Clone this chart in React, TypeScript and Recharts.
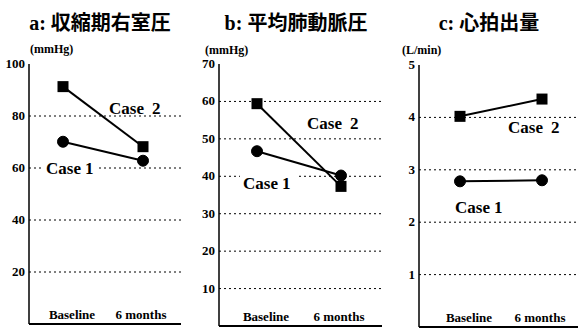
import { Line, LineChart, ReferenceLine, XAxis, YAxis } from "recharts";

const categories = ["Baseline", "6 months"];

// a: right ventricular systolic pressure (mmHg)
const rvspCase1 = [70.1, 62.8];
const rvspCase2 = [91.3, 68.2];
const rvspTicks = [0, 20, 40, 60, 80, 100];

// b: mean pulmonary artery pressure (mmHg)
const mpapCase1 = [46.7, 40.2];
const mpapCase2 = [59.4, 37.3];
const mpapTicks = [0, 10, 20, 30, 40, 50, 60, 70];

// c: cardiac output (L/min)
const coCase1 = [2.78, 2.8];
const coCase2 = [4.02, 4.35];
const coTicks = [0, 1, 2, 3, 4, 5];

const SERIF = "'Liberation Serif', serif";
const TITLE_FONT = "'Liberation Serif', 'Noto Sans CJK JP', serif";

interface PanelProps {
  case1: number[];
  case2: number[];
  ticks: number[];
  boxLeft: number;
  boxWidth: number;
  plotLeft: number;
  plotRight: number;
  plotTop: number;
  plotBottom: number;
  padLeft: number;
  padRight: number;
  topBorder: boolean;
}

const SquareDot = (props: any) => {
  const { cx, cy, index } = props;
  if (cx == null || cy == null) return null;
  return <rect key={`sq-${index}`} x={cx - 5.5} y={cy - 5.5} width={11} height={11} fill="#000" />;
};

const XTick = (props: any) => {
  const { x, y, payload, index } = props;
  return (
    <text
      x={x + (index === 0 ? 9 : -2)}
      y={y - 5}
      textAnchor="middle"
      fontFamily={SERIF}
      fontWeight="bold"
      fontSize={13}
      fill="#000"
    >
      {payload.value}
    </text>
  );
};

const YTick = (props: any) => {
  const { x, y, payload } = props;
  return (
    <text x={x} y={y + 4} textAnchor="end" fontFamily={SERIF} fontWeight="bold" fontSize={13} fill="#000">
      {payload.value}
    </text>
  );
};

function Panel(p: PanelProps) {
  const data = categories.map((label, i) => ({
    label,
    case1: p.case1[i],
    case2: p.case2[i],
  }));
  const top = p.ticks[p.ticks.length - 1];
  const grid = p.ticks.slice(1, -1);
  const axisW = p.plotLeft - p.boxLeft;
  return (
    <div style={{ position: "absolute", left: p.boxLeft, top: 0 }}>
      <LineChart
        width={p.boxWidth}
        height={329}
        data={data}
        margin={{ top: p.plotTop, right: p.boxLeft + p.boxWidth - p.plotRight, bottom: 0, left: 0 }}
      >
        <XAxis
          dataKey="label"
          height={329 - p.plotBottom}
          padding={{ left: p.padLeft, right: p.padRight }}
          axisLine={{ stroke: "#000", strokeWidth: 2 }}
          tickLine={false}
          tickSize={0}
          tickMargin={0}
          tick={<XTick />}
          interval={0}
        />
        {p.topBorder && (
          <XAxis
            xAxisId="top"
            dataKey="label"
            orientation="top"
            height={0}
            padding={{ left: p.padLeft, right: p.padRight }}
            axisLine={{ stroke: "#000", strokeWidth: 1.5 }}
            tick={false}
            tickLine={false}
          />
        )}
        <YAxis
          width={axisW}
          domain={[0, top]}
          ticks={p.ticks}
          allowDataOverflow
          axisLine={{ stroke: "#000", strokeWidth: 1.5 }}
          tickLine={false}
          tickSize={0}
          tickMargin={4}
          tick={<YTick />}
        />
        <YAxis
          yAxisId="right"
          orientation="right"
          width={0}
          domain={[0, top]}
          axisLine={{ stroke: "#000", strokeWidth: 1.5 }}
          tick={false}
          tickLine={false}
        />
        {grid.map((v) => (
          <ReferenceLine key={v} y={v} stroke="#000" strokeWidth={1} strokeDasharray="2 3" />
        ))}
        <Line
          dataKey="case2"
          stroke="#000"
          strokeWidth={2}
          dot={<SquareDot />}
          isAnimationActive={false}
        />
        <Line
          dataKey="case1"
          stroke="#000"
          strokeWidth={2}
          dot={{ r: 5.5, fill: "#000", stroke: "#000", strokeWidth: 1 }}
          isAnimationActive={false}
        />
      </LineChart>
    </div>
  );
}

function CaseLabel({ x, y, n, bg }: { x: number; y: number; n: string; bg?: boolean }) {
  return (
    <g>
      {bg && <rect x={x - 3} y={y - 14} width={56} height={18} fill="#fff" />}
      <text x={x} y={y} fill="#000" fontFamily={SERIF} fontWeight="bold" fontSize={17}>
        Case<tspan dx={n === "2" ? 8 : 4}>{n}</tspan>
      </text>
    </g>
  );
}

export default function App() {
  return (
    <div
      style={{
        position: "absolute",
        left: 0,
        top: 0,
        width: 581,
        height: 329,
        background: "#fff",
        overflow: "hidden",
      }}
    >
      <Panel
        case1={rvspCase1}
        case2={rvspCase2}
        ticks={rvspTicks}
        boxLeft={0}
        boxWidth={190}
        plotLeft={29}
        plotRight={181}
        plotTop={64}
        plotBottom={324}
        padLeft={34}
        padRight={38}
        topBorder={false}
      />
      <Panel
        case1={mpapCase1}
        case2={mpapCase2}
        ticks={mpapTicks}
        boxLeft={190}
        boxWidth={200}
        plotLeft={219}
        plotRight={382}
        plotTop={64}
        plotBottom={326}
        padLeft={38}
        padRight={41}
        topBorder={true}
      />
      <Panel
        case1={coCase1}
        case2={coCase2}
        ticks={coTicks}
        boxLeft={390}
        boxWidth={191}
        plotLeft={419}
        plotRight={578}
        plotTop={65}
        plotBottom={327}
        padLeft={41}
        padRight={36}
        topBorder={true}
      />
      <svg
        width={581}
        height={329}
        style={{ position: "absolute", left: 0, top: 0, pointerEvents: "none" }}
      >
        <g fill="#000" fontFamily={TITLE_FONT} fontWeight="bold" fontSize={20}>
          <text x={100} y={30} textAnchor="middle">a: 収縮期右室圧</text>
          <text x={296} y={30} textAnchor="middle">b: 平均肺動脈圧</text>
          <text x={489} y={30} textAnchor="middle">c: 心拍出量</text>
        </g>
        <g fill="#000" fontFamily={SERIF} fontWeight="bold" fontSize={12}>
          <text x={30} y={53}>(mmHg)</text>
          <text x={205} y={54}>(mmHg)</text>
          <text x={402} y={54}>(L/min)</text>
        </g>
        <CaseLabel x={109} y={114} n="2" />
        <CaseLabel x={46} y={174} n="1" bg />
        <CaseLabel x={307} y={129} n="2" />
        <CaseLabel x={243} y={189} n="1" bg />
        <CaseLabel x={508} y={133} n="2" />
        <CaseLabel x={455} y={213} n="1" />
      </svg>
    </div>
  );
}
